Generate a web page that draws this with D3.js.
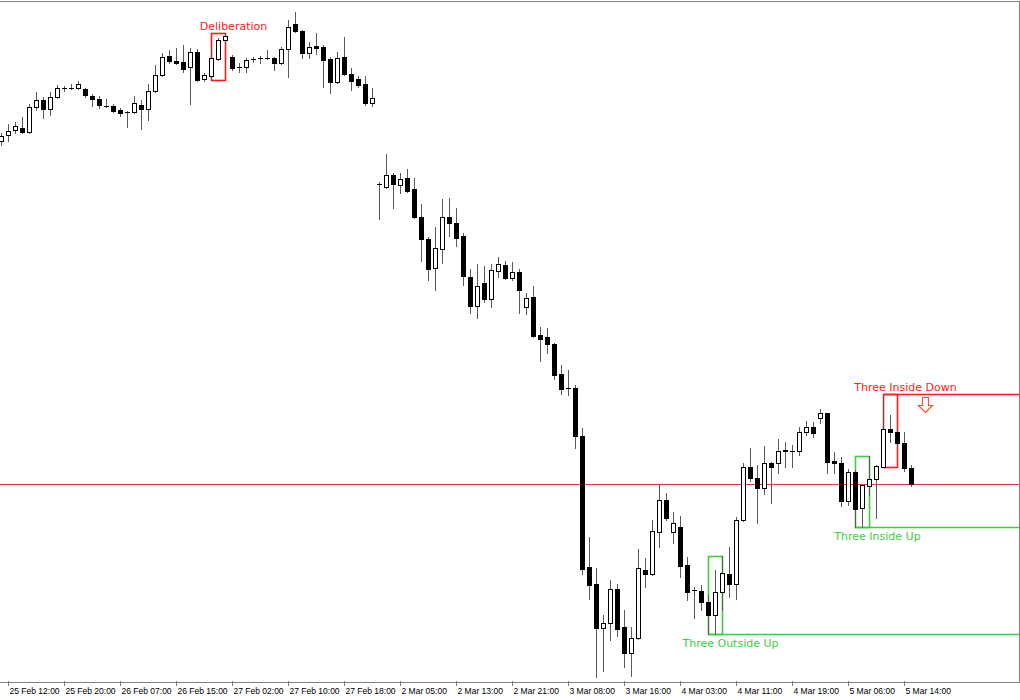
<!DOCTYPE html>
<html>
<head>
<meta charset="utf-8">
<script src="https://cdnjs.cloudflare.com/ajax/libs/d3/7.8.5/d3.min.js"></script>
<style>
body { margin: 0; background: #fff; }
svg { display: block; }
.wick { stroke: #5a5a5a; stroke-width: 1; }
.axis text { font-family: "Liberation Sans", Arial, sans-serif; font-size: 8.5px; fill: #000; }
.pattern-label { font-family: "DejaVu Sans", Verdana, sans-serif; font-size: 11px; }
</style>
</head>
<body>
<svg width="1020" height="700"></svg>
<script>
// H1 candles, 25 Feb 11:00 .. 5 Mar 15:00
var opens = [
  1.3343, 1.3349, 1.3354, 1.3356, 1.3352, 1.3377, 1.3384, 1.3375, 1.3387, 1.3396,
  1.3396, 1.3396, 1.3395, 1.3388, 1.3385, 1.3378, 1.3378, 1.3374, 1.3372, 1.3372,
  1.3379, 1.3375, 1.3393, 1.3409, 1.3428, 1.3423, 1.3422, 1.3417, 1.3432, 1.3405,
  1.3408, 1.3425, 1.3444, 1.3427, 1.3417, 1.3417, 1.3425, 1.3426, 1.3426, 1.3426,
  1.3421, 1.3435, 1.3460, 1.3453, 1.3431, 1.3438, 1.3437, 1.3425, 1.3402, 1.3427,
  1.3410, 1.3405, 1.3400, 1.3381, 1.3300, 1.3297, 1.3309, 1.3299, 1.3306, 1.3295,
  1.3267, 1.3245, 1.3216, 1.3235, 1.3267, 1.3261, 1.3248, 1.3207, 1.3178, 1.3201,
  1.3185, 1.3213, 1.3219, 1.3206, 1.3212, 1.3177, 1.3187, 1.3149, 1.3147, 1.3140,
  1.3110, 1.3096, 1.3096, 1.3048, 1.2917, 1.2900, 1.2856, 1.2861, 1.2895, 1.2857,
  1.2831, 1.2846, 1.2914, 1.2910, 1.2952, 1.2984, 1.2952, 1.2957, 1.2919, 1.2894,
  1.2893, 1.2882, 1.2869, 1.2892, 1.2910, 1.2900, 1.2964, 1.3017, 1.3006, 1.2996,
  1.3021, 1.3021, 1.3033, 1.3033, 1.3033, 1.3052, 1.3057, 1.3066, 1.3071, 1.3023,
  1.3021, 1.2983, 1.3012, 1.2976, 1.2998, 1.3005, 1.3017, 1.3055, 1.3052, 1.3041,
  1.3016
];
var highs = [
  1.3351, 1.3360, 1.3362, 1.3367, 1.3380, 1.3392, 1.3387, 1.3392, 1.3399, 1.3398,
  1.3400, 1.3403, 1.3396, 1.3390, 1.3388, 1.3385, 1.3380, 1.3376, 1.3373, 1.3388,
  1.3384, 1.3400, 1.3419, 1.3431, 1.3434, 1.3436, 1.3439, 1.3436, 1.3435, 1.3411,
  1.3436, 1.3446, 1.3451, 1.3429, 1.3421, 1.3426, 1.3427, 1.3428, 1.3434, 1.3427,
  1.3437, 1.3464, 1.3472, 1.3454, 1.3442, 1.3451, 1.3439, 1.3427, 1.3432, 1.3447,
  1.3416, 1.3408, 1.3408, 1.3396, 1.3302, 1.3330, 1.3311, 1.3311, 1.3315, 1.3306,
  1.3280, 1.3247, 1.3257, 1.3285, 1.3286, 1.3276, 1.3251, 1.3215, 1.3220, 1.3218,
  1.3220, 1.3227, 1.3223, 1.3222, 1.3215, 1.3191, 1.3198, 1.3157, 1.3156, 1.3141,
  1.3119, 1.3114, 1.3099, 1.3056, 1.2947, 1.2916, 1.2869, 1.2904, 1.2900, 1.2874,
  1.2857, 1.2935, 1.2926, 1.2964, 1.3000, 1.2991, 1.2972, 1.2968, 1.2927, 1.2897,
  1.2899, 1.2889, 1.2914, 1.2928, 1.2937, 1.2967, 1.3021, 1.3036, 1.3019, 1.3038,
  1.3022, 1.3045, 1.3042, 1.3039, 1.3057, 1.3063, 1.3062, 1.3075, 1.3071, 1.3032,
  1.3027, 1.3015, 1.3014, 1.3000, 1.3028, 1.3019, 1.3090, 1.3069, 1.3056, 1.3052,
  1.3019
];
var lows = [
  1.3339, 1.3343, 1.3351, 1.3351, 1.3351, 1.3374, 1.3366, 1.3369, 1.3386, 1.3393,
  1.3395, 1.3395, 1.3387, 1.3378, 1.3376, 1.3377, 1.3372, 1.3368, 1.3357, 1.3371,
  1.3355, 1.3364, 1.3392, 1.3408, 1.3421, 1.3420, 1.3412, 1.3380, 1.3403, 1.3403,
  1.3404, 1.3424, 1.3443, 1.3414, 1.3412, 1.3412, 1.3422, 1.3421, 1.3425, 1.3414,
  1.3420, 1.3407, 1.3452, 1.3426, 1.3426, 1.3430, 1.3397, 1.3391, 1.3401, 1.3409,
  1.3394, 1.3397, 1.3379, 1.3378, 1.3265, 1.3296, 1.3276, 1.3291, 1.3292, 1.3266,
  1.3223, 1.3204, 1.3194, 1.3221, 1.3248, 1.3238, 1.3199, 1.3171, 1.3166, 1.3182,
  1.3177, 1.3207, 1.3205, 1.3204, 1.3171, 1.3170, 1.3147, 1.3123, 1.3131, 1.3105,
  1.3090, 1.3089, 1.3036, 1.2910, 1.2885, 1.2807, 1.2813, 1.2844, 1.2848, 1.2817,
  1.2808, 1.2845, 1.2897, 1.2909, 1.2937, 1.2964, 1.2941, 1.2907, 1.2884, 1.2866,
  1.2874, 1.2850, 1.2850, 1.2874, 1.2887, 1.2885, 1.2963, 1.3003, 1.2961, 1.2990,
  1.2981, 1.3011, 1.3017, 1.3017, 1.3029, 1.3049, 1.3047, 1.3061, 1.3011, 1.3011,
  1.2978, 1.2979, 1.2957, 1.2957, 1.2989, 1.2966, 1.3017, 1.3042, 1.3037, 1.3013,
  1.2998
];
var closes = [
  1.3348, 1.3353, 1.3358, 1.3352, 1.3377, 1.3384, 1.3375, 1.3387, 1.3396, 1.3396,
  1.3396, 1.3400, 1.3389, 1.3385, 1.3379, 1.3378, 1.3373, 1.3371, 1.3372, 1.3381,
  1.3375, 1.3393, 1.3409, 1.3427, 1.3423, 1.3421, 1.3415, 1.3432, 1.3404, 1.3409,
  1.3426, 1.3444, 1.3448, 1.3416, 1.3417, 1.3424, 1.3425, 1.3426, 1.3426, 1.3421,
  1.3435, 1.3457, 1.3453, 1.3431, 1.3437, 1.3436, 1.3424, 1.3402, 1.3426, 1.3410,
  1.3403, 1.3399, 1.3381, 1.3386, 1.3300, 1.3309, 1.3300, 1.3305, 1.3293, 1.3267,
  1.3245, 1.3215, 1.3236, 1.3267, 1.3261, 1.3246, 1.3208, 1.3178, 1.3198, 1.3185,
  1.3214, 1.3220, 1.3206, 1.3212, 1.3194, 1.3186, 1.3148, 1.3145, 1.3140, 1.3109,
  1.3095, 1.3096, 1.3048, 1.2915, 1.2899, 1.2856, 1.2861, 1.2895, 1.2855, 1.2831,
  1.2846, 1.2916, 1.2910, 1.2953, 1.2984, 1.2966, 1.2961, 1.2918, 1.2892, 1.2894,
  1.2882, 1.2869, 1.2892, 1.2911, 1.2900, 1.2964, 1.3017, 1.3006, 1.2996, 1.3021,
  1.3017, 1.3033, 1.3034, 1.3033, 1.3052, 1.3057, 1.3051, 1.3071, 1.3022, 1.3021,
  1.2983, 1.3012, 1.2975, 1.2999, 1.3005, 1.3018, 1.3055, 1.3052, 1.3041, 1.3016,
  1.3000
];

var tickIndex = [1, 9, 17, 25, 33, 41, 49, 57, 65, 73, 81, 89, 97, 105, 113, 121, 129];
var tickLabels = ["25 Feb 12:00", "25 Feb 20:00", "26 Feb 07:00", "26 Feb 15:00", "27 Feb 02:00",
  "27 Feb 10:00", "27 Feb 18:00", "2 Mar 05:00", "2 Mar 13:00", "2 Mar 21:00", "3 Mar 08:00",
  "3 Mar 16:00", "4 Mar 03:00", "4 Mar 11:00", "4 Mar 19:00", "5 Mar 06:00", "5 Mar 14:00"];

// candlestick patterns marked on the chart
var patternNames = ["Deliberation", "Three Outside Up", "Three Inside Up", "Three Inside Down"];
var patternFirst = [30, 101, 122, 126];
var patternLast = [32, 103, 124, 128];
var patternSide = ["bear", "bull", "bull", "bear"];
var patternExtend = [false, true, true, true];

var RED = "#ff1a1a", GREEN = "#3ccf3c", FRAME = "#808080";

var svg = d3.select("svg"),
    width = +svg.attr("width"),
    height = +svg.attr("height"),
    right = 1019,
    bottom = 682;

var x = d3.scaleLinear().domain([0, 130]).range([1, 911]);
var y = d3.scaleLinear().domain([1.2802, 1.3484]).range([bottom, 0]);

function py(v) { return Math.round(y(v)); }

var bars = d3.range(closes.length).map(function(i) {
  return {i: i, o: opens[i], h: highs[i], l: lows[i], c: closes[i]};
});

// frame
svg.append("line").attr("x1", 0).attr("x2", right + 1).attr("y1", 1.5).attr("y2", 1.5)
    .attr("stroke", FRAME);
svg.append("line").attr("x1", right + 0.5).attr("x2", right + 0.5).attr("y1", 1).attr("y2", bottom + 1)
    .attr("stroke", FRAME);
svg.append("line").attr("x1", 0).attr("x2", right + 1).attr("y1", bottom + 0.5).attr("y2", bottom + 0.5)
    .attr("stroke", FRAME);

// last price line
var last = closes[closes.length - 1];
svg.append("line")
    .attr("x1", 0).attr("x2", right)
    .attr("y1", py(last) + 0.5).attr("y2", py(last) + 0.5)
    .attr("stroke", "#e63a3a");

// pattern boxes (under the candles)
var marks = svg.append("g");
patternNames.forEach(function(name, p) {
  var a = patternFirst[p], b = patternLast[p],
      hi = d3.max(highs.slice(a, b + 1)),
      lo = d3.min(lows.slice(a, b + 1)),
      col = patternSide[p] == "bull" ? GREEN : RED,
      x0 = x(a) + 0.5, x1 = x(b) + 0.5,
      yt = py(hi) + 0.5, yb = py(lo) + 0.5;

  marks.append("rect")
      .attr("x", x0).attr("y", yt)
      .attr("width", x1 - x0).attr("height", yb - yt)
      .attr("fill", "none").attr("stroke", col).attr("stroke-width", 1.6);

  if (patternExtend[p]) {
    var ly = patternSide[p] == "bull" ? yb : yt;
    marks.append("line")
        .attr("x1", x0).attr("x2", right)
        .attr("y1", ly).attr("y2", ly)
        .attr("stroke", col).attr("stroke-width", 1.6);
  }

  marks.append("text")
      .attr("class", "pattern-label")
      .attr("x", (x0 + x1) / 2 + 15)
      .attr("y", patternSide[p] == "bull" ? yb + 12 : yt - 3.5)
      .attr("text-anchor", "middle")
      .attr("fill", col)
      .text(name);

  // sell arrow after the bearish reversal pattern
  if (patternExtend[p] && patternSide[p] == "bear") {
    var cx = x(b + 4) + 0.5, ty = yt + 3;
    marks.append("path")
        .attr("d", "M" + (cx - 3) + "," + ty + "h6v8h4l-7,7l-7,-7h4z")
        .attr("fill", "#fff")
        .attr("stroke", "#f0522a")
        .attr("stroke-width", 1.2);
  }
});

// candles
var candle = svg.append("g").selectAll("g")
    .data(bars)
  .enter().append("g");

candle.append("line")
    .attr("class", "wick")
    .attr("x1", function(d) { return x(d.i) + 0.5; })
    .attr("x2", function(d) { return x(d.i) + 0.5; })
    .attr("y1", function(d) { return py(d.h); })
    .attr("y2", function(d) { return py(d.l) + 1; });

candle.each(function(d) {
  var g = d3.select(this),
      top = py(Math.max(d.o, d.c)),
      bot = py(Math.min(d.o, d.c));
  if (bot - top < 1) {
    g.append("line")
        .attr("x1", x(d.i) - 2).attr("x2", x(d.i) + 3)
        .attr("y1", top + 0.5).attr("y2", top + 0.5)
        .attr("stroke", "#000");
  } else if (d.c > d.o) {
    g.append("rect")
        .attr("x", x(d.i) - 1.5).attr("width", 4)
        .attr("y", top + 0.5).attr("height", bot - top)
        .attr("fill", "#fff").attr("stroke", "#000");
  } else {
    g.append("rect")
        .attr("x", x(d.i) - 2).attr("width", 5)
        .attr("y", top).attr("height", bot - top + 1)
        .attr("fill", "#000");
  }
});

// time axis
var axis = d3.axisBottom(x)
    .tickValues(tickIndex)
    .tickFormat(function(d, i) { return tickLabels[i]; })
    .tickSize(4)
    .tickPadding(2);

var gx = svg.append("g")
    .attr("class", "axis")
    .attr("transform", "translate(0," + bottom + ")")
    .call(axis);
gx.select(".domain").remove();
gx.selectAll(".tick line").attr("stroke", FRAME).attr("y1", -1);
gx.selectAll(".tick text")
    .attr("text-anchor", "start")
    .attr("x", 1);
</script>
</body>
</html>
